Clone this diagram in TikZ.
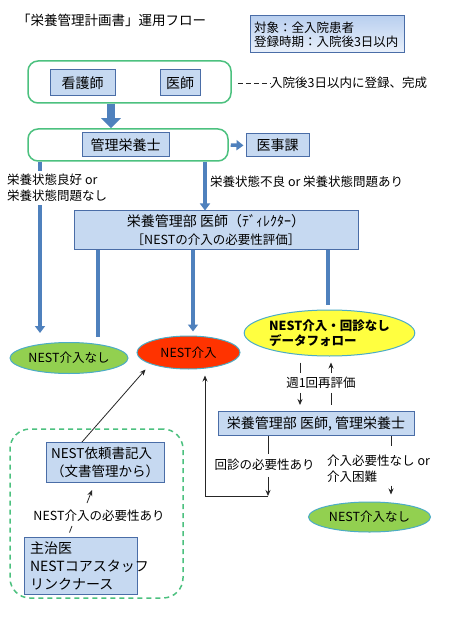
\documentclass[tikz,border=0pt]{standalone}
\usepackage{fontspec}
\setmainfont{Noto Sans CJK JP}
\usetikzlibrary{arrows.meta,shapes.geometric,calc}
\definecolor{bfill}{HTML}{C6D9F1}
\definecolor{bdraw}{HTML}{4A6DA7}
\definecolor{gline}{HTML}{4CC17F}
\definecolor{ablue}{HTML}{4F81BD}
\definecolor{eline}{HTML}{4BACC6}
\definecolor{egreen}{HTML}{92D050}
\definecolor{ered}{HTML}{FF3300}
\definecolor{eyellow}{HTML}{FFFF40}
\definecolor{gtop}{HTML}{B9CFEF}
\definecolor{gbot}{HTML}{EAF1FB}
\newcommand\fsT{\fontsize{13.5}{17}\selectfont}
\newcommand\fsA{\fontsize{14}{18}\selectfont}
\newcommand\fsR{\fontsize{13.5}{18}\selectfont}
\newcommand\fsL{\fontsize{12.5}{15.5}\selectfont}
\begin{document}
\begin{tikzpicture}[x=1pt,y=-1pt,
  bbox/.style={draw=bdraw, fill=bfill, line width=1pt, inner sep=0pt, align=center},
  gbox/.style={draw=gline, line width=1.5pt, rounded corners=10pt, inner sep=0pt},
  ell/.style={ellipse, draw=eline, line width=1pt, inner sep=0pt, font=\fsL},
  thk/.style={draw=ablue, line width=3.5pt},
  thkarr/.style={thk, -{Triangle[width=10pt,length=7pt]}},
  thinl/.style={draw=black!85, line width=0.8pt},
  thinarr/.style={thinl, -{Stealth[width=5pt,length=6pt]}},
  lbl/.style={inner sep=0pt, font=\fsL},
]
\useasboundingbox (0,0) rectangle (448,617);
\fill[white] (0,0) rectangle (448,617);

% helper x positions
\coordinate (x40) at (40,0);
\coordinate (x82) at (82,0);
\coordinate (x98) at (98,0);
\coordinate (x111) at (111,0);
\coordinate (x193) at (193,0);
\coordinate (x205) at (205,0);
\coordinate (x268) at (268,0);
\coordinate (x300) at (300,0);
\coordinate (x328) at (328,0);
\coordinate (x331) at (331,0);
\coordinate (x391) at (391,0);

% title and target box
\node[anchor=west, inner sep=0pt, font=\fsT] (title) at (17,20) {「栄養管理計画書」運用フロー};
\node[draw=bdraw, line width=1pt, top color=gtop, bottom color=gbot, minimum width=154pt, minimum height=37pt, inner sep=0pt, text width=146pt, align=left, font=\fsL] (target) at (327,34.5) {対象：全入院患者\\[-1.5pt]登録時期：入院後3日以内};

% first group
\node[gbox, minimum width=203pt, minimum height=42pt] (g1) at (129.5,82) {};
\node[bbox, minimum width=65pt, minimum height=26pt, font=\fsA] (nurse) at (82.5,83) {看護師};
\node[bbox, minimum width=40pt, minimum height=26pt, font=\fsA] (doctor) at (180,83) {医師};
\node[lbl, anchor=west] (note) at (270,83) {入院後3日以内に登録、完成};
\draw[thinl, dash pattern=on 5pt off 3pt] ($(g1.east)+(6,1)$) -- (note.west);

% second group
\node[gbox, minimum width=200pt, minimum height=32pt] (g2) at (128,145) {};
\node[bbox, minimum width=87pt, minimum height=24pt, font=\fsA] (diet) at (125.5,145) {管理栄養士};
\node[bbox, minimum width=63pt, minimum height=23pt, font=\fsA] (ijika) at (277.5,145.5) {医事課};
\draw[draw=ablue, line width=8pt, -{Triangle[width=19pt,length=10pt]}] (g1.south -| x111) -- (g2.north -| x111);
\draw[thkarr, shorten <=2pt, shorten >=2pt] (g2.east) -- (ijika.west);

% branches from g2
\node[lbl, anchor=west, align=left] (good) at (7,187.5) {栄養状態良好 or\\栄養状態問題なし};
\node[lbl, anchor=west] (bad) at (210,182) {栄養状態不良 or 栄養状態問題あり};
\node[bbox, minimum width=284pt, minimum height=38pt, font=\fsA] (eval) at (216,230) {栄養管理部 医師（ﾃﾞｨﾚｸﾀｰ）\\{\fsL ［NESTの介入の必要性評価］}};
\draw[thkarr] (g2.south -| x205) -- (eval.north -| x205);

% ellipses
\node[ell, fill=egreen, minimum width=118pt, minimum height=31pt] (noNest1) at (69,358) {NEST介入なし};
\node[ell, fill=ered, minimum width=103pt, minimum height=33pt] (nest) at (188.5,352.5) {NEST介入};
\node[ell, fill=eyellow, minimum width=149pt, minimum height=46pt, align=left, font=\fsL\bfseries] (follow) at (329.5,333) {NEST介入・回診なし\\データフォロー};

\draw[thk] (g2.south -| x40) -- ($(good.north -| x40)+(0,-3)$);
\draw[thkarr] ($(good.south -| x40)+(0,4)$) -- ($(noNest1.north -| x40)+(0,-9)$);
\draw[thk] (eval.south -| x98) -- ($(noNest1.north -| x98)+(0,-5)$);
\draw[thkarr] (eval.south -| x193) -- ($(nest.north -| x193)+(0,-4)$);
\draw[thk] (eval.south -| x328) -- ($(follow.north -| x328)+(0,-5)$);

% weekly re-evaluation
\node[lbl] (weekly) at (321,383) {週1回再評価};
\node[bbox, minimum width=196pt, minimum height=24pt, font=\fsA] (box2) at (316,423.5) {栄養管理部 医師, 管理栄養士};
\draw[thinl] ($(follow.south -| x300)+(0,6)$) -- ($(weekly.north -| x300)+(0,-4)$);
\draw[thinarr] ($(weekly.south -| x300)+(0,4)$) -- ($(box2.north -| x300)+(0,-6)$);
\draw[thinarr] ($(weekly.north -| x331)+(0,-4)$) -- ($(follow.south -| x331)+(0,6)$);
\draw[thinl] ($(weekly.south -| x331)+(0,4)$) -- ($(box2.north -| x331)+(0,-6)$);

% below box2
\node[lbl] (revisit) at (264.5,465) {回診の必要性あり};
\node[lbl, anchor=west, align=left] (noneed) at (327,469) {介入必要性なし or\\介入困難};
\node[ell, fill=egreen, minimum width=122pt, minimum height=30pt] (noNest2) at (369.5,517) {NEST介入なし};
\coordinate (corner) at (268,496);
\draw[thinl] (box2.south -| x268) -- ($(revisit.north -| x268)+(0,-5)$);
\draw[thinarr] ($(revisit.south -| x268)+(0,6)$) -- (corner);
\draw[thinarr, shorten >=6pt] (corner) -- (corner -| x205) -- (nest.south -| x205);
\draw[thinl] (box2.south -| x391) -- ($(noneed.north -| x391)+(0,-9)$);
\draw[thinarr] ($(noneed.south -| x391)+(0,3)$) -- ($(noNest2.north -| x391)+(0,-7)$);

% dashed group
\node[draw=gline, line width=1.5pt, dash pattern=on 5pt off 4pt, rounded corners=20pt, minimum width=173pt, minimum height=169pt, inner sep=0pt] (grp) at (96.5,513.5) {};
\node[bbox, minimum width=118pt, minimum height=40pt, font=\fsR, align=left] (request) at (105,462.5) {NEST依頼書記入\\（文書管理から）};
\node[lbl] (needed) at (99,516) {NEST介入の必要性あり};
\node[bbox, minimum width=113pt, minimum height=57pt, font=\fsA, align=left, text width=101pt] (attending) at (80.5,565.5) {主治医\\NESTコアスタッフ\\リンクナース};
\draw[thinarr] (request.north -| x82) -- ($(nest.center)+(-43,17)$);
\draw[thinarr] ($(needed.north)+(-12,-7)$) -- ($(request.south)+(-13,7)$);
\draw[thinl] ($(attending.north)+(-11,-4)$) -- ($(needed.south)+(-27,4)$);
\end{tikzpicture}
\end{document}
